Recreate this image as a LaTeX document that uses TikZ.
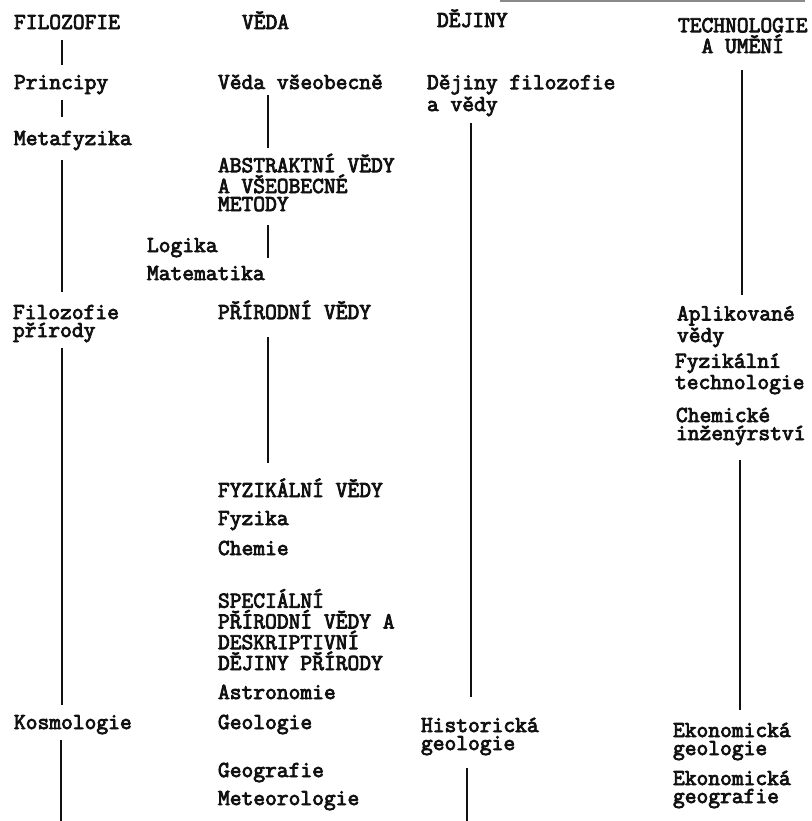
\documentclass[tikz,border=0pt]{standalone}
\usepackage{fontspec}
\setmonofont{Latin Modern Mono}[AutoFakeBold=3.5]
\usepackage{tikz}
\usetikzlibrary{positioning}
\definecolor{inkBlack}{HTML}{111111}
\definecolor{scanGray}{HTML}{8A8A8A}

\tikzset{
  term/.style={anchor=west, align=left, inner sep=0pt, outer sep=0pt,
    text height=7pt, text depth=2pt,
    font=\fontsize{11.43}{9}\selectfont\ttfamily\bfseries, text=inkBlack},
  twolines/.style={text height=16pt},
  threelines/.style={text height=25pt},
  fourlines/.style={text height=34pt},
  link/.style={draw=inkBlack, line width=1.1pt},
}

\begin{document}
\begin{tikzpicture}[x=0.5pt, y=-0.5pt]
  \useasboundingbox (0,0) rectangle (811,821);
  \coordinate (ruleL) at (500,1);
  \coordinate (ruleR) at (805,1);
  \draw[scanGray, line width=0.6pt] (ruleL) -- (ruleR);

  % filozofie
  \node[term] (filo)   at (14,24)  {FILOZOFIE};
  \node[term] (princ)  at (14,84)  {Principy};
  \node[term] (meta)   at (14,140) {Metafyzika};
  \node[term, twolines] (filpr) at (13,323) {Filozofie\\přírody};
  \node[term] (kosmo)  at (14,724) {Kosmologie};
  \coordinate (kosEnd) at (61,821);

  % veda
  \node[term] (veda)   at (242,24)  {VĚDA};
  \node[term] (vedavs) at (218,84)  {Věda všeobecně};
  \node[term, threelines] (abstr) at (218,188) {ABSTRAKTNÍ VĚDY\\A VŠEOBECNÉ\\METODY};
  \node[term] (logika) at (147,247) {Logika};
  \node[term] (mat)    at (147,275) {Matematika};
  \node[term] (prir)   at (218,314) {PŘÍRODNÍ VĚDY};
  \node[term] (fyzv)   at (218,492) {FYZIKÁLNÍ VĚDY};
  \node[term] (fyz)    at (218,520) {Fyzika};
  \node[term] (chem)   at (218,550) {Chemie};
  \node[term, fourlines] (spec) at (218,638) {SPECIÁLNÍ\\PŘÍRODNÍ VĚDY A\\DESKRIPTIVNÍ\\DĚJINY PŘÍRODY};
  \node[term] (astro)  at (218,694) {Astronomie};
  \node[term] (geol)   at (218,724) {Geologie};
  \node[term] (geogr)  at (218,772) {Geografie};
  \node[term] (meteo)  at (218,800) {Meteorologie};

  % dejiny
  \node[term] (dej)    at (437,22)  {DĚJINY};
  \node[term, twolines] (dejfil) at (427,97)  {Dějiny filozofie\\a vědy};
  \node[term, twolines] (histg)  at (421,736) {Historická\\geologie};
  \coordinate (histEnd) at (467,821);

  % technologie
  \node[term, twolines, align=center] (tech) at (678,39) {TECHNOLOGIE\\A UMĚNÍ};
  \node[term, twolines] (aplik)  at (677,328) {Aplikované\\vědy};
  \node[term, twolines] (fyztec) at (675,375) {Fyzikální\\technologie};
  \node[term, twolines] (chemin) at (676,426) {Chemické\\inženýrství};
  \node[term, twolines] (ekgeol) at (673,741) {Ekonomická\\geologie};
  \node[term, twolines] (ekgeog) at (673,789) {Ekonomická\\geografie};

  \draw[link, shorten <=3.5pt, shorten >=5pt] (filo.south -| 62,0) -- (princ.north -| 62,0);
  \draw[link, shorten <=3.5pt, shorten >=7pt] (princ.south -| 62,0) -- (meta.north -| 62,0);
  \draw[link, shorten <=5.5pt, shorten >=6.5pt] (meta.south -| 62,0) -- (filpr.north -| 62,0);
  \draw[link, shorten <=3.5pt, shorten >=5pt] (filpr.south -| 62,0) -- (kosmo.north -| 62,0);
  \draw[link, shorten <=3.5pt] (kosmo.south -| 61,0) -- (kosEnd);

  \draw[link, shorten <=1pt, shorten >=6.5pt] (vedavs.south -| 268,0) -- (abstr.north -| 268,0);
  \draw[link, shorten <=5pt, shorten >=4pt] (abstr.south -| 268,0) -- (mat.north -| 268,0);
  \draw[link, shorten <=7pt, shorten >=10pt] (prir.south -| 268,0) -- (fyzv.north -| 268,0);

  \draw[link, shorten <=4pt, shorten >=10.5pt] (dejfil.south -| 471,0) -- (histg.north -| 471,0);
  \draw[link, shorten <=7pt] (histg.south -| 467,0) -- (histEnd);

  \draw[link, shorten <=6.5pt, shorten >=7.5pt] (tech.south -| 742,0) -- (aplik.north -| 742,0);
  \draw[link, shorten <=8pt, shorten >=6.5pt] (chemin.south -| 740,0) -- (ekgeol.north -| 740,0);
\end{tikzpicture}
\end{document}
